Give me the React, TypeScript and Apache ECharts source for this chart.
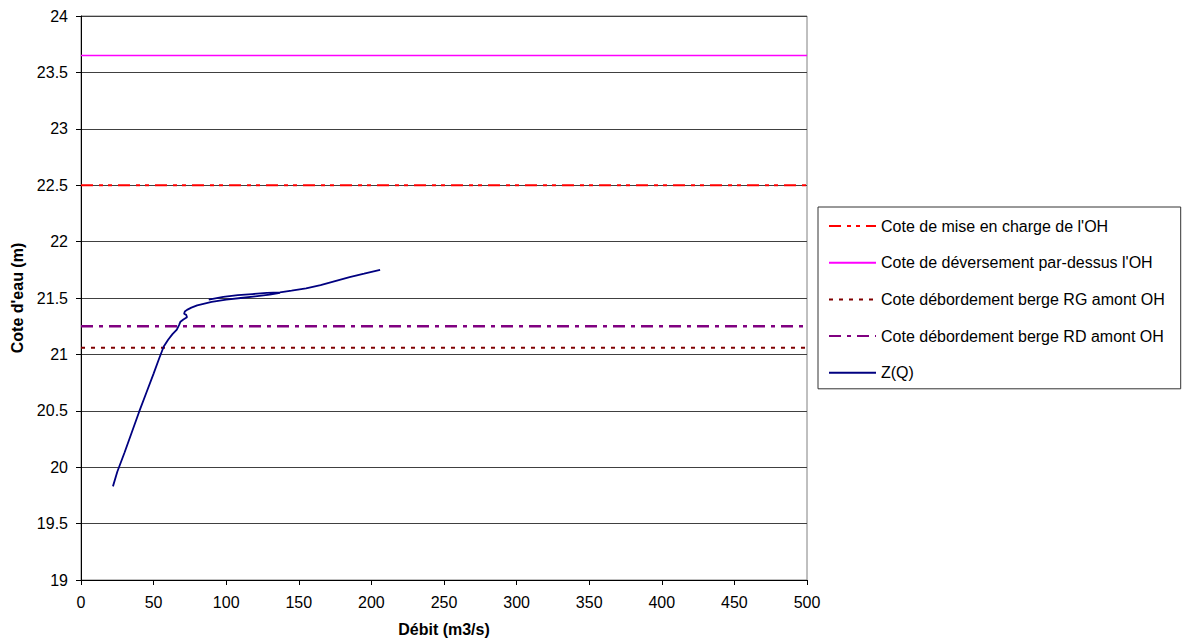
import React, { useEffect, useRef } from "react";
import * as echarts from "echarts";

const FONT = "'Liberation Sans', Arial, sans-serif";

// Horizontal reference levels (m)
const levelNames = [
  "Cote de mise en charge de l'OH",
  "Cote de déversement par-dessus l'OH",
  "Cote débordement berge RG amont OH",
  "Cote débordement berge RD amont OH",
];
const levelValues = [22.5, 23.65, 21.06, 21.25];
const levelColors = ["#FF0000", "#FF00FF", "#800000", "#800080"];
const levelDashes: (number[] | "solid")[] = [
  [12, 6, 4, 5, 4, 6],
  "solid",
  [4, 6],
  [12, 6, 4, 6],
];
const levelWidths = [2, 1.6, 2, 2.5];

// Rating curve Z(Q)
const curveName = "Z(Q)";
const qValues = [
  22, 25, 30, 35, 40, 45, 50, 54, 57, 60, 63, 66, 67.5, 68.5, 70.5, 73, 72.5, 71, 71.5, 73, 76, 80, 85, 90,
  100, 110, 120, 130, 137, 128, 118, 108, 98, 88, 98, 108, 118, 128, 137, 145, 155, 165, 175, 185, 195, 206,
];
const zValues = [
  19.83, 19.96, 20.13, 20.31, 20.49, 20.66, 20.83, 20.97, 21.07, 21.13, 21.18, 21.22, 21.26, 21.29, 21.31,
  21.33, 21.35, 21.36, 21.38, 21.395, 21.415, 21.435, 21.45, 21.465, 21.485, 21.5, 21.515, 21.53, 21.545,
  21.545, 21.535, 21.525, 21.51, 21.485, 21.51, 21.525, 21.535, 21.545, 21.55, 21.565, 21.585, 21.615, 21.65,
  21.685, 21.715, 21.75,
];

const xMin = 0;
const xMax = 500;
const xStep = 50;
const yMin = 19;
const yMax = 24;
const yStep = 0.5;

export default function App() {
  const ref = useRef<HTMLDivElement>(null);

  useEffect(() => {
    if (!ref.current) return;
    const chart = echarts.init(ref.current, null, { renderer: "svg" });

    const levelSeries = levelNames.map((name, i) => ({
      name,
      type: "line",
      symbol: "none",
      data: [
        [xMin, levelValues[i]],
        [xMax, levelValues[i]],
      ],
      lineStyle: {
        color: levelColors[i],
        width: levelWidths[i],
        type: levelDashes[i],
        cap: "butt",
      },
      itemStyle: { color: levelColors[i] },
      z: 3,
    }));

    const curveSeries = {
      name: curveName,
      type: "line",
      symbol: "none",
      data: qValues.map((q, i) => [q, zValues[i]]),
      lineStyle: { color: "#000080", width: 1.8 },
      itemStyle: { color: "#000080" },
      z: 4,
    };

    chart.setOption({
      animation: false,
      backgroundColor: "#ffffff",
      textStyle: { fontFamily: FONT },
      grid: {
        left: 81,
        top: 16,
        width: 726,
        height: 565,
        show: true,
        borderColor: "#808080",
        borderWidth: 1,
        backgroundColor: "transparent",
      },
      legend: {
        orient: "vertical",
        left: 818,
        top: 207,
        padding: [11, 16, 8, 10],
        itemWidth: 47,
        itemHeight: 14,
        itemGap: 20.7,
        borderColor: "#333",
        borderWidth: 1,
        backgroundColor: "#fff",
        itemStyle: { opacity: 0, borderWidth: 0 },
        textStyle: { fontSize: 16, color: "#000", fontFamily: FONT },
        data: [...levelNames, curveName],
      },
      xAxis: {
        type: "value",
        min: xMin,
        max: xMax,
        interval: xStep,
        name: "Débit (m3/s)",
        nameLocation: "middle",
        nameGap: 41,
        nameTextStyle: { fontSize: 16, fontWeight: "bold", color: "#000", fontFamily: FONT },
        axisLine: { show: true, lineStyle: { color: "#000", width: 1 } },
        axisTick: { show: true, inside: false, length: 5, lineStyle: { color: "#000" } },
        axisLabel: { fontSize: 16, color: "#000", margin: 14, fontFamily: FONT },
        splitLine: { show: false },
      },
      yAxis: {
        type: "value",
        min: yMin,
        max: yMax,
        interval: yStep,
        name: "Cote d'eau (m)",
        nameLocation: "middle",
        nameGap: 55,
        nameRotate: 90,
        nameTextStyle: { fontSize: 16, fontWeight: "bold", color: "#000", fontFamily: FONT },
        axisLine: { show: true, lineStyle: { color: "#000", width: 1 } },
        axisTick: { show: true, inside: false, length: 5, lineStyle: { color: "#000" } },
        axisLabel: { fontSize: 16, color: "#000", margin: 13, fontFamily: FONT },
        splitLine: { show: true, lineStyle: { color: "#404040", width: 1 } },
      },
      series: [...levelSeries, curveSeries],
    });

    return () => chart.dispose();
  }, []);

  return (
    <div
      ref={ref}
      style={{ position: "fixed", left: 0, top: 0, width: 1182, height: 642, background: "#fff" }}
    />
  );
}
